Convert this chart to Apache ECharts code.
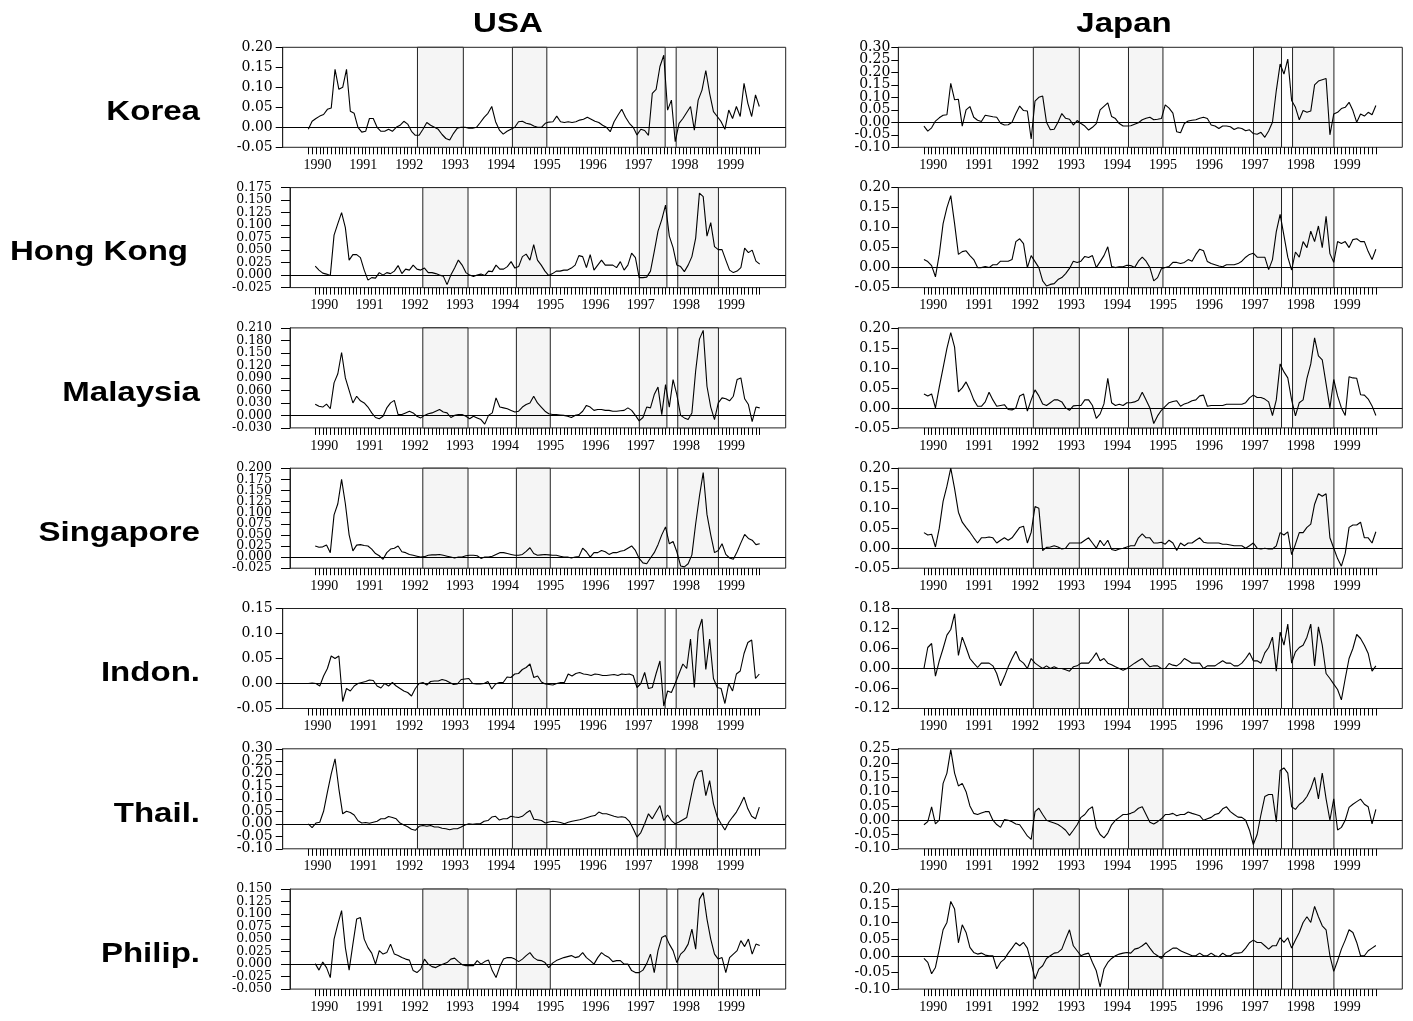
<!DOCTYPE html>
<html><head><meta charset="utf-8">
<script src="https://cdn.jsdelivr.net/npm/echarts@6/dist/echarts.min.js"></script>
<style>html,body{margin:0;padding:0;background:#fff}#c{width:1413px;height:1021px}</style>
</head><body><div id="c"></div>
<script>
// ---------- labels ----------
const COL_TITLES = ['USA', 'Japan'];
const ROW_LABELS = ['Korea', 'Hong Kong', 'Malaysia', 'Singapore', 'Indon.', 'Thail.', 'Philip.'];
const YEAR_LABELS = [1990, 1991, 1992, 1993, 1994, 1995, 1996, 1997, 1998, 1999];
// shaded periods (decimal years)
const SHADES = [[1992.18, 1993.18], [1994.25, 1995.0], [1996.97, 1997.58], [1997.82, 1998.72]];
// sample period of the series (decimal years), monthly observations
const X_START = 1989.8, X_END = 1999.633;

// ---------- series values ----------
const USA_KOREA = [-0.005,0.015,0.022,0.028,0.032,0.045,0.048,0.145,0.095,0.10,
0.145,0.04,0.035,0.0,-0.012,-0.01,0.022,0.022,0.0,-0.01,
-0.01,-0.005,-0.01,0.0,0.005,0.015,0.008,-0.01,-0.02,-0.02,
-0.005,0.012,0.005,0.0,-0.005,-0.018,-0.028,-0.032,-0.015,-0.002,
0.0,0.0,-0.002,-0.002,0.0,0.012,0.025,0.035,0.052,0.014,
-0.007,-0.017,-0.01,-0.005,0.0,0.014,0.015,0.01,0.008,0.003,
0.0,0.0,0.01,0.013,0.014,0.028,0.014,0.012,0.014,0.012,
0.014,0.018,0.02,0.025,0.02,0.015,0.012,0.005,0.0,-0.011,
0.014,0.03,0.045,0.025,0.01,0.0,-0.019,-0.005,-0.008,-0.02,
0.085,0.095,0.152,0.18,0.043,0.068,-0.036,0.01,0.022,0.037,
0.052,-0.007,0.068,0.093,0.142,0.085,0.039,0.027,0.014,-0.005,
0.043,0.022,0.052,0.027,0.11,0.06,0.027,0.081,0.052];
const USA_HK = [0.018,0.01,0.004,0.002,-0.001,0.08,0.103,0.125,0.095,0.03,
0.041,0.041,0.035,0.01,-0.01,-0.005,-0.006,0.005,0.0,0.005,
0.003,0.008,0.019,0.003,0.012,0.01,0.02,0.012,0.01,0.014,
0.005,0.005,0.003,0.0,-0.002,-0.019,0.0,0.014,0.03,0.02,
0.005,0.0,-0.003,0.0,0.002,-0.001,0.008,0.007,0.02,0.012,
0.012,0.017,0.027,0.014,0.017,0.037,0.042,0.03,0.061,0.03,
0.02,0.008,-0.001,0.003,0.008,0.008,0.01,0.01,0.014,0.02,
0.039,0.037,0.015,0.041,0.01,0.02,0.03,0.02,0.02,0.02,
0.015,0.027,0.01,0.02,0.044,0.035,-0.005,-0.005,-0.004,0.008,
0.047,0.088,0.111,0.14,0.078,0.055,0.02,0.017,0.007,0.02,
0.037,0.074,0.164,0.157,0.078,0.105,0.057,0.051,0.051,0.03,
0.01,0.005,0.008,0.015,0.054,0.045,0.05,0.028,0.022];
const USA_MALAYSIA = [0.027,0.022,0.02,0.027,0.016,0.078,0.1,0.151,0.09,0.06,
0.03,0.046,0.035,0.03,0.02,0.006,-0.005,-0.008,-0.002,0.018,
0.03,0.036,0.002,0.002,0.006,0.01,0.006,-0.002,-0.006,0.0,
0.004,0.006,0.01,0.014,0.008,0.006,-0.005,0.0,0.002,0.002,
-0.002,-0.008,-0.002,-0.006,-0.01,-0.021,0.0,0.006,0.042,0.02,
0.018,0.016,0.012,0.008,0.01,0.02,0.026,0.03,0.046,0.03,
0.02,0.01,0.004,0.002,0.002,0.001,0.0,-0.002,-0.005,0.0,
0.002,0.01,0.024,0.02,0.012,0.014,0.014,0.012,0.012,0.01,
0.01,0.011,0.012,0.018,0.012,0.0,-0.013,-0.005,0.02,0.018,
0.05,0.068,0.002,0.074,0.02,0.086,0.05,0.0,-0.006,-0.01,
0.006,0.107,0.183,0.204,0.07,0.02,-0.01,0.03,0.042,0.04,
0.035,0.046,0.086,0.09,0.04,0.026,-0.015,0.02,0.018];
const USA_SINGAPORE = [0.025,0.022,0.023,0.027,0.01,0.095,0.12,0.175,0.12,0.05,
0.014,0.027,0.028,0.026,0.025,0.018,0.008,0.003,-0.005,0.01,
0.018,0.02,0.025,0.012,0.01,0.006,0.004,0.002,0.0,0.001,
0.004,0.005,0.005,0.006,0.004,0.002,0.0,-0.002,0.0,0.0,
0.003,0.004,0.004,0.003,-0.003,0.0,0.0,0.002,0.006,0.01,
0.01,0.008,0.006,0.004,0.004,0.006,0.013,0.021,0.008,0.004,
0.005,0.006,0.005,0.004,0.004,0.002,0.0,0.0,-0.002,0.0,
0.001,0.02,0.012,0.0,0.01,0.01,0.015,0.012,0.006,0.01,
0.01,0.013,0.015,0.02,0.025,0.015,-0.003,-0.013,-0.015,-0.002,
0.01,0.028,0.05,0.068,0.03,0.035,0.012,-0.02,-0.022,-0.015,
0.005,0.075,0.137,0.19,0.096,0.05,0.01,0.015,0.03,0.006,
-0.002,-0.005,0.012,0.032,0.051,0.042,0.038,0.028,0.03];
const USA_INDON = [0.0,0.001,0.0,-0.005,0.015,0.03,0.055,0.05,0.055,-0.036,
-0.01,-0.015,-0.005,0.0,0.002,0.004,0.007,0.006,-0.005,-0.009,
0.0,-0.005,0.002,-0.005,-0.01,-0.015,-0.018,-0.025,-0.01,0.0,
0.002,-0.003,0.004,0.005,0.005,0.008,0.006,0.002,-0.002,-0.001,
0.008,0.009,0.01,0.0,-0.001,-0.001,0.0,0.004,-0.011,-0.001,
0.002,0.002,0.013,0.012,0.019,0.02,0.028,0.032,0.039,0.012,
0.015,0.003,-0.001,-0.002,-0.003,0.0,0.002,0.002,0.019,0.015,
0.02,0.022,0.019,0.018,0.016,0.019,0.018,0.016,0.016,0.017,
0.018,0.016,0.019,0.018,0.019,0.016,-0.008,0.0,0.022,-0.01,
-0.008,0.02,0.045,-0.045,-0.015,-0.018,0.0,0.02,0.039,0.03,
0.089,-0.008,0.105,0.129,0.028,0.089,0.01,-0.008,-0.01,-0.04,
0.0,-0.015,0.019,0.025,0.06,0.082,0.087,0.01,0.019];
const USA_THAIL = [0.0,-0.015,0.003,0.006,0.05,0.127,0.2,0.26,0.14,0.04,
0.05,0.045,0.035,0.012,0.003,0.005,0.002,0.006,0.01,0.02,
0.02,0.029,0.025,0.02,0.003,-0.005,-0.012,-0.022,-0.026,-0.01,
-0.007,-0.01,-0.007,-0.013,-0.013,-0.018,-0.02,-0.024,-0.02,-0.02,
-0.013,-0.005,0.0,-0.002,0.0,0.0,0.01,0.013,0.027,0.03,
0.015,0.02,0.02,0.03,0.027,0.025,0.03,0.043,0.053,0.018,
0.016,0.013,0.003,0.007,0.01,0.008,0.005,0.0,0.006,0.01,
0.013,0.016,0.02,0.025,0.03,0.033,0.047,0.04,0.04,0.035,
0.03,0.026,0.028,0.025,0.01,-0.02,-0.053,-0.035,0.0,0.04,
0.02,0.047,0.073,0.013,0.035,0.013,0.0,0.007,0.016,0.025,
0.1,0.173,0.207,0.213,0.113,0.173,0.08,0.027,0.0,-0.025,
0.006,0.027,0.047,0.075,0.107,0.06,0.03,0.02,0.067];
const USA_PHILIP = [0.001,-0.012,0.004,-0.007,-0.027,0.05,0.08,0.107,0.033,-0.012,
0.04,0.09,0.093,0.05,0.033,0.022,0.0,0.027,0.02,0.023,
0.04,0.02,0.017,0.013,0.01,0.008,-0.013,-0.017,-0.01,0.01,
0.0,-0.005,-0.007,-0.003,0.0,0.003,0.01,0.012,0.005,-0.001,
-0.003,-0.003,-0.003,0.007,0.0,0.005,0.008,-0.013,-0.027,-0.005,
0.01,0.013,0.013,0.01,0.005,0.01,0.017,0.023,0.013,0.008,
0.007,0.003,-0.007,0.002,0.007,0.01,0.013,0.015,0.017,0.013,
0.015,0.023,0.013,0.007,0.0,0.013,0.023,0.017,0.013,0.005,
0.007,0.007,0.0,0.0,-0.013,-0.017,-0.017,-0.012,0.001,0.02,
-0.017,0.027,0.053,0.057,0.04,0.027,0.003,0.02,0.027,0.04,
0.07,0.03,0.13,0.143,0.09,0.05,0.02,0.01,0.013,-0.017,
0.013,0.02,0.027,0.047,0.035,0.05,0.02,0.04,0.037];

const JAPAN_KOREA = [-0.015,-0.035,-0.022,0.005,0.018,0.028,0.03,0.156,0.09,0.092,
-0.015,0.05,0.063,0.02,0.008,0.003,0.028,0.025,0.022,0.02,
-0.004,-0.011,-0.01,0.0,0.035,0.065,0.047,0.045,-0.067,0.085,
0.1,0.105,0.0,-0.03,-0.028,0.0,0.035,0.016,0.012,-0.011,
0.007,-0.005,-0.015,-0.031,-0.02,-0.005,0.05,0.064,0.078,0.023,
0.015,-0.005,-0.015,-0.015,-0.014,-0.008,-0.002,0.01,0.016,0.02,
0.01,0.012,0.015,0.07,0.057,0.037,-0.038,-0.042,-0.005,0.005,
0.008,0.01,0.016,0.02,0.015,-0.011,-0.015,-0.025,-0.015,-0.015,
-0.018,-0.029,-0.022,-0.025,-0.034,-0.03,-0.045,-0.048,-0.04,-0.06,
-0.035,0.0,0.127,0.233,0.193,0.253,0.087,0.06,0.01,0.047,
0.04,0.045,0.15,0.165,0.17,0.175,-0.05,0.033,0.04,0.055,
0.06,0.08,0.047,0.0,0.033,0.025,0.04,0.03,0.067];
const JAPAN_HK = [0.02,0.015,0.005,-0.023,0.033,0.11,0.15,0.18,0.11,0.033,
0.04,0.042,0.03,0.02,0.0,0.0,0.003,0.0,0.007,0.007,
0.016,0.016,0.016,0.02,0.065,0.072,0.06,0.0,0.03,0.015,
0.0,-0.033,-0.046,-0.042,-0.04,-0.03,-0.025,-0.015,-0.002,0.016,
0.013,0.016,0.028,0.025,0.03,0.0,0.015,0.03,0.052,0.003,
0.0,0.002,0.002,0.006,0.005,0.0,0.016,0.026,0.016,0.0,
-0.033,-0.025,-0.003,0.0,0.003,0.013,0.013,0.01,0.013,0.02,
0.016,0.033,0.046,0.042,0.015,0.01,0.007,0.004,0.002,0.007,
0.007,0.007,0.01,0.016,0.026,0.033,0.036,0.026,0.026,0.026,
-0.005,0.02,0.09,0.133,0.08,0.026,-0.006,0.039,0.026,0.065,
0.05,0.091,0.065,0.104,0.05,0.128,0.035,0.013,0.065,0.06,
0.065,0.05,0.07,0.072,0.065,0.065,0.04,0.02,0.046];
const JAPAN_MALAYSIA = [0.035,0.03,0.035,0.0,0.052,0.1,0.149,0.188,0.152,0.04,
0.05,0.065,0.045,0.02,0.004,0.004,0.015,0.039,0.02,0.004,
0.006,0.008,-0.004,-0.005,0.0,0.03,0.035,-0.008,0.02,0.045,
0.03,0.01,0.006,0.013,0.02,0.02,0.015,0.0,-0.006,0.005,
0.006,0.006,0.02,0.02,0.006,-0.026,-0.015,0.01,0.074,0.013,
0.006,0.009,0.006,0.013,0.013,0.015,0.02,0.039,0.02,0.0,
-0.039,-0.02,-0.006,0.004,0.013,0.016,0.018,0.004,0.01,0.013,
0.018,0.02,0.03,0.032,0.004,0.006,0.006,0.006,0.006,0.009,
0.009,0.009,0.009,0.009,0.013,0.025,0.032,0.026,0.026,0.022,
0.015,-0.019,0.02,0.11,0.09,0.075,0.02,-0.02,0.013,0.02,
0.074,0.11,0.175,0.13,0.12,0.06,0.0,0.071,0.03,0.0,
-0.019,0.078,0.075,0.074,0.033,0.032,0.022,0.005,-0.019];
const JAPAN_SINGAPORE = [0.039,0.033,0.035,0.003,0.05,0.117,0.155,0.2,0.149,0.09,
0.065,0.052,0.04,0.026,0.013,0.026,0.026,0.028,0.026,0.013,
0.02,0.026,0.02,0.026,0.039,0.052,0.055,0.013,0.04,0.104,
0.1,-0.006,0.002,0.003,0.006,0.003,-0.002,0.0,0.013,0.013,
0.013,0.013,0.02,0.026,0.013,0.0,0.02,0.006,0.02,-0.003,
-0.006,-0.002,0.0,0.003,0.006,0.006,0.026,0.036,0.026,0.026,
0.013,0.013,0.015,0.01,0.02,0.013,-0.006,0.013,0.006,0.013,
0.013,0.02,0.026,0.015,0.013,0.013,0.013,0.013,0.01,0.01,
0.008,0.006,0.006,0.006,0.0,0.006,0.013,0.0,-0.002,0.0,
-0.002,-0.002,0.006,0.039,0.033,0.041,-0.016,0.01,0.039,0.039,
0.052,0.06,0.11,0.136,0.13,0.136,0.026,0.0,-0.026,-0.045,
-0.013,0.052,0.058,0.058,0.065,0.026,0.026,0.013,0.041];
const JAPAN_INDON = [0.0,0.063,0.075,-0.023,0.023,0.06,0.1,0.117,0.164,0.039,
0.094,0.063,0.03,0.016,0.003,0.016,0.016,0.016,0.008,-0.015,
-0.052,-0.025,0.005,0.03,0.052,0.025,0.016,0.0,0.03,0.016,
0.008,0.0,0.008,0.0,0.005,0.0,0.0,-0.004,-0.008,0.005,
0.008,0.016,0.016,0.016,0.03,0.047,0.023,0.03,0.016,0.011,
0.005,0.0,-0.005,0.0,0.008,0.016,0.023,0.03,0.016,0.005,
0.008,0.008,0.0,0.0,0.015,0.01,0.008,0.016,0.03,0.023,
0.016,0.016,0.016,0.0,0.008,0.008,0.008,0.016,0.023,0.016,
0.016,0.008,0.008,0.016,0.03,0.047,0.023,0.023,0.016,0.047,
0.063,0.094,-0.008,0.109,0.07,0.133,0.016,0.05,0.063,0.07,
0.094,0.133,0.008,0.125,0.07,-0.015,-0.03,-0.047,-0.063,-0.094,
-0.03,0.03,0.06,0.102,0.09,0.07,0.045,-0.008,0.008];
const JAPAN_THAIL = [-0.016,-0.005,0.047,-0.013,0.0,0.129,0.165,0.247,0.165,0.12,
0.129,0.1,0.05,0.024,0.02,0.025,0.03,0.03,0.0,-0.015,
-0.025,0.002,0.0,-0.005,-0.013,-0.016,-0.035,-0.055,-0.067,0.03,
0.042,0.02,0.0,-0.005,-0.01,-0.015,-0.024,-0.035,-0.053,-0.035,
-0.016,0.01,0.02,0.038,0.047,-0.025,-0.05,-0.062,-0.045,-0.016,
0.0,0.01,0.02,0.02,0.024,0.03,0.042,0.047,0.02,-0.007,
-0.013,-0.005,0.005,0.02,0.02,0.024,0.016,0.02,0.02,0.029,
0.024,0.02,0.016,0.0,0.005,0.01,0.02,0.024,0.04,0.047,
0.03,0.02,0.011,0.01,0.0,-0.035,-0.085,-0.05,0.02,0.083,
0.09,0.09,-0.005,0.174,0.183,0.165,0.047,0.038,0.055,0.065,
0.083,0.11,0.15,0.075,0.165,0.075,0.0,0.075,-0.034,-0.025,
0.0,0.045,0.056,0.065,0.074,0.056,0.047,-0.013,0.038];
const JAPAN_PHILIP = [-0.008,-0.02,-0.054,-0.035,0.02,0.078,0.1,0.163,0.14,0.039,
0.093,0.07,0.025,0.01,0.005,0.008,0.002,0.0,0.0,-0.039,
-0.02,-0.01,0.008,0.023,0.039,0.03,0.04,0.023,-0.02,-0.07,
-0.04,-0.03,-0.008,0.0,0.008,0.01,0.02,0.05,0.078,0.03,
0.015,0.0,0.005,0.008,-0.02,-0.045,-0.093,-0.04,-0.02,-0.008,
0.0,0.005,0.008,0.01,0.008,0.02,0.023,0.03,0.039,0.023,
0.008,0.0,-0.008,0.008,0.015,0.023,0.023,0.015,0.01,0.005,
0.0,0.0,0.008,0.0,0.0,0.008,0.0,-0.003,0.008,0.0,
0.0,0.008,0.008,0.01,0.023,0.039,0.047,0.04,0.04,0.03,
0.02,0.03,0.03,0.054,0.04,0.054,0.023,0.047,0.07,0.1,
0.117,0.1,0.148,0.117,0.09,0.078,0.0,-0.047,-0.015,0.02,
0.047,0.078,0.07,0.04,0.0,0.0,0.015,0.023,0.031];

// y-axis tick specs per panel: [min, max, step, decimals]
const Y_TICKS_USA = [[-0.05,0.20,0.05,2],[-0.025,0.175,0.025,3],[-0.03,0.21,0.03,3],[-0.025,0.2,0.025,3],[-0.05,0.15,0.05,2],[-0.1,0.3,0.05,2],[-0.05,0.15,0.025,3]];
const Y_TICKS_JAPAN = [[-0.1,0.3,0.05,2],[-0.05,0.2,0.05,2],[-0.05,0.2,0.05,2],[-0.05,0.2,0.05,2],[-0.12,0.18,0.06,2],[-0.1,0.25,0.05,2],[-0.1,0.2,0.05,2]];

const USA_SERIES = [USA_KOREA, USA_HK, USA_MALAYSIA, USA_SINGAPORE, USA_INDON, USA_THAIL, USA_PHILIP];
const JAPAN_SERIES = [JAPAN_KOREA, JAPAN_HK, JAPAN_MALAYSIA, JAPAN_SINGAPORE, JAPAN_INDON, JAPAN_THAIL, JAPAN_PHILIP];

// ---------- layout ----------
const X_MIN = 1989.242, X_MAX = 2000.208;
const MONTH_TICKS = [];
for (let k = 0; k <= 118; k++) MONTH_TICKS.push(X_START + k / 12);

const chart = echarts.init(document.getElementById('c'), null, {renderer: 'canvas'});
const grids = [], xAxes = [], yAxes = [], series = [];

function addPanel(col, row, values, spec) {
  const k = grids.length;
  const [ymin, ymax, step, dec] = spec;
  const top = 47.3 + row * 140.3;
  let left, right, margin, tickLen, fs;
  if (col === 0) {
    left = dec === 3 ? 290 : 282.7; right = 785.7;
    margin = dec === 3 ? 18 : 10; tickLen = dec === 3 ? 9 : 7;
  } else {
    left = 898.3; right = 1402.3; margin = 8; tickLen = 7;
  }
  fs = dec === 3 ? 12.5 : 14;
  // tick positions split into two label sets so neighbouring labels never collide
  const nT = Math.round((ymax - ymin) / step);
  const even = [], odd = [];
  for (let j = 0; j <= nT; j++) {
    const v = +(ymin + j * step).toFixed(6);
    (j % 2 === 0 ? even : odd).push(v);
  }
  const labelStyle = {formatter: v => (Math.abs(v) < 1e-9 ? 0 : v).toFixed(dec), margin: margin,
    showMinLabel: true, showMaxLabel: true, hideOverlap: false,
    color: '#000', fontFamily: '"DejaVu Serif", serif', fontSize: fs};
  grids.push({left: left, top: top, width: right - left, height: 100, show: true,
    borderColor: '#222', borderWidth: 1, backgroundColor: 'transparent'});
  xAxes.push({type: 'value', gridIndex: k, min: X_MIN, max: X_MAX, position: 'bottom',
    axisLine: {show: false, onZero: false}, splitLine: {show: false},
    axisTick: {show: true, customValues: MONTH_TICKS, length: 7, lineStyle: {color: '#000', width: 1}},
    axisLabel: {show: true, customValues: YEAR_LABELS, formatter: v => String(Math.round(v)),
      margin: 11, color: '#000', fontFamily: '"Liberation Serif", serif', fontSize: 14}});
  const yMain = yAxes.length;
  yAxes.push({type: 'value', gridIndex: k, min: ymin, max: ymax, interval: step, position: 'left',
    axisLine: {show: true, onZero: false, lineStyle: {color: '#222', width: 1}},
    axisTick: {show: true, length: tickLen, lineStyle: {color: '#000', width: 1}},
    splitLine: {show: false},
    axisLabel: Object.assign({customValues: even}, labelStyle)});
  yAxes.push({type: 'value', gridIndex: k, min: ymin, max: ymax, interval: step, position: 'left',
    axisLine: {show: false, onZero: false}, axisTick: {show: false}, splitLine: {show: false},
    axisLabel: Object.assign({customValues: odd}, labelStyle)});
  const n = values.length;
  series.push({type: 'line', xAxisIndex: k, yAxisIndex: yMain,
    data: values.map((v, i) => [X_START + i * (X_END - X_START) / (n - 1), v]),
    showSymbol: false, symbol: 'none', silent: true, animation: false,
    lineStyle: {color: '#000', width: 1.1}, z: 5,
    markArea: {silent: true, itemStyle: {color: '#f5f5f5', borderColor: '#222', borderWidth: 1},
      data: SHADES.map(s => [{xAxis: s[0]}, {xAxis: s[1]}])},
    markLine: {silent: true, symbol: ['none', 'none'], label: {show: false},
      lineStyle: {color: '#000', width: 1, type: 'solid'}, data: [{yAxis: 0}]}
  });
}

for (let r = 0; r < 7; r++) {
  addPanel(0, r, USA_SERIES[r], Y_TICKS_USA[r]);
  addPanel(1, r, JAPAN_SERIES[r], Y_TICKS_JAPAN[r]);
}

const graphics = [];
const TITLE_X = [508, 1124];
COL_TITLES.forEach((t, i) => graphics.push({type: 'text', x: TITLE_X[i], y: 24, scaleX: 1.18,
  style: {text: t, font: 'bold 28px "Liberation Sans", Arial, sans-serif', fill: '#000',
    textAlign: 'center', align: 'center', textVerticalAlign: 'middle', verticalAlign: 'middle'}}));
const ROW_RIGHT = [200, 188, 200, 200, 200, 200, 200];
ROW_LABELS.forEach((t, r) => graphics.push({type: 'text', x: ROW_RIGHT[r], y: 47.3 + r * 140.3 + 65, scaleX: 1.18,
  style: {text: t, font: 'bold 28px "Liberation Sans", Arial, sans-serif', fill: '#000',
    textAlign: 'right', align: 'right', textVerticalAlign: 'middle', verticalAlign: 'middle'}}));

chart.setOption({
  animation: false,
  backgroundColor: '#fff',
  grid: grids, xAxis: xAxes, yAxis: yAxes, series: series,
  graphic: graphics
});
</script>
</body></html>
